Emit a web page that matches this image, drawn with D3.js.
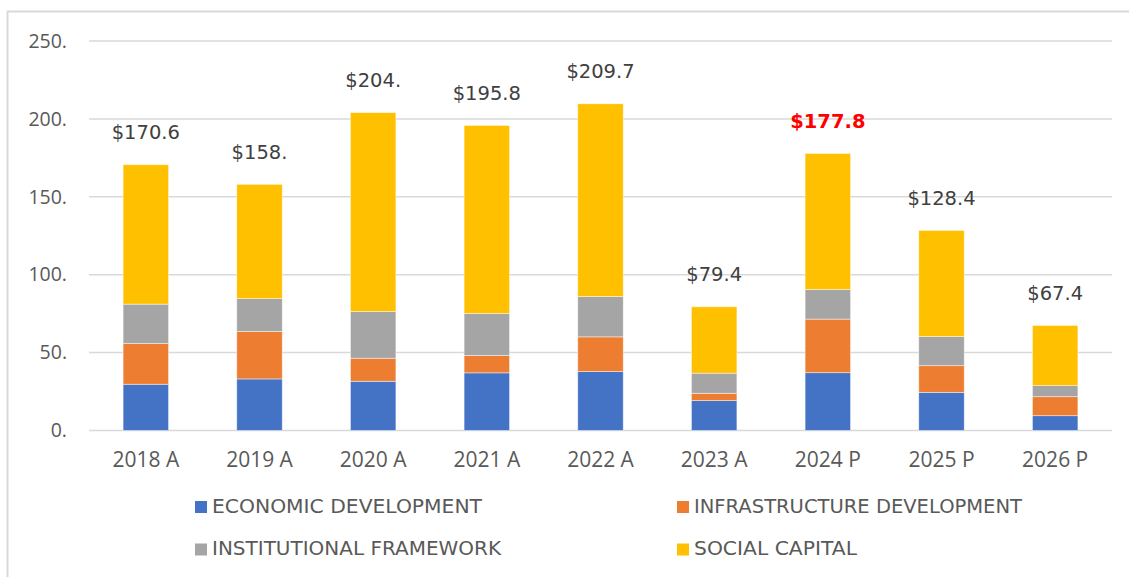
<!DOCTYPE html>
<html>
<head>
<meta charset="utf-8">
<script src="https://cdn.jsdelivr.net/npm/d3@7"></script>
<style>
  body { margin: 0; background: #ffffff; }
  svg { display: block; }
</style>
</head>
<body>
<div id="chart"></div>
<script>
// data
const categories = ['2018 A', '2019 A', '2020 A', '2021 A', '2022 A', '2023 A', '2024 P', '2025 P', '2026 P'];
const economic = [29.7, 33.1, 31.6, 37.0, 37.8, 19.2, 37.1, 24.5, 9.5];
const infrastructure = [26.1, 30.4, 14.8, 11.1, 22.3, 4.7, 34.4, 17.1, 12.2];
const institutional = [25.3, 21.2, 29.9, 27.0, 25.9, 12.9, 19.0, 18.7, 7.1];
const social = [89.5, 73.3, 127.7, 120.7, 123.7, 42.6, 87.3, 68.1, 38.6];
const total_labels = ['$170.6', '$158.', '$204.', '$195.8', '$209.7', '$79.4', '$177.8', '$128.4', '$67.4'];
const highlight_label = '2024 P';
const series_names = ['ECONOMIC DEVELOPMENT', 'INFRASTRUCTURE DEVELOPMENT', 'INSTITUTIONAL FRAMEWORK', 'SOCIAL CAPITAL'];
const y_ticks = [0, 50, 100, 150, 200, 250];

//**********************************************************************************************
//                                  CONSTANTS FOR CHART SIZE
//**********************************************************************************************
const TOTAL_WIDTH = 1129;
const TOTAL_HEIGHT = 577;
const PLOT_LEFT = 89;
const PLOT_RIGHT = 1112;
const PLOT_TOP = 41;
const PLOT_BOTTOM = 430.5;
const LABEL_GAP = 31;

const COLORS = ['#4472C4', '#ED7D31', '#A5A5A5', '#FFC000'];

const rows = categories.map((c, i) => ({
    cat: c,
    s0: economic[i],
    s1: infrastructure[i],
    s2: institutional[i],
    s3: social[i],
    label: total_labels[i]
}));
const keys = ['s0', 's1', 's2', 's3'];

const svg = d3.select('#chart').append('svg')
    .attr('width', TOTAL_WIDTH)
    .attr('height', TOTAL_HEIGHT);

// chart frame (right and bottom edges fall outside the picture)
svg.append('rect')
    .attr('x', 7.5).attr('y', 11.5)
    .attr('width', TOTAL_WIDTH + 20).attr('height', TOTAL_HEIGHT + 20)
    .attr('fill', 'none')
    .attr('stroke', '#d9d9d9')
    .attr('stroke-width', 2);

//**********************************************************************************************
//                                  SCALES
//**********************************************************************************************
const x = d3.scaleBand()
    .domain(categories)
    .range([PLOT_LEFT, PLOT_RIGHT])
    .paddingInner(0.6)
    .paddingOuter(0.3);

const y = d3.scaleLinear()
    .domain([0, 250])
    .range([PLOT_BOTTOM, PLOT_TOP]);

// gridlines
svg.append('g')
    .selectAll('line')
    .data(y_ticks)
    .join('line')
    .attr('x1', PLOT_LEFT).attr('x2', PLOT_RIGHT)
    .attr('y1', d => y(d)).attr('y2', d => y(d))
    .attr('stroke', '#d9d9d9')
    .attr('stroke-width', 1.5);

// y axis labels
const yAxis = svg.append('g')
    .attr('transform', 'translate(67,0)')
    .call(d3.axisLeft(y).tickValues(y_ticks).tickFormat(d => d + '.').tickSize(0).tickPadding(0));
yAxis.select('.domain').remove();
yAxis.selectAll('text')
    .attr('fill', '#595959')
    .style('font', '19.5px "Open Sans", sans-serif');

// x axis labels
const xAxis = svg.append('g')
    .attr('transform', `translate(0,${PLOT_BOTTOM})`)
    .call(d3.axisBottom(x).tickSize(0).tickPadding(0));
xAxis.select('.domain').remove();
xAxis.selectAll('text')
    .attr('fill', '#595959')
    .attr('dy', null)
    .attr('y', 31)
    .attr('dominant-baseline', 'middle')
    .style('font', '21px "Open Sans", sans-serif');

//**********************************************************************************************
//                                  STACKED BARS
//**********************************************************************************************
const stacked = d3.stack().keys(keys)(rows);

svg.append('g')
    .selectAll('g')
    .data(stacked)
    .join('g')
    .attr('fill', (d, i) => COLORS[i])
    .selectAll('rect')
    .data(d => d)
    .join('rect')
    .attr('x', d => x(d.data.cat))
    .attr('width', x.bandwidth())
    .attr('y', d => y(d[1]))
    .attr('height', d => y(d[0]) - y(d[1]))
    .attr('stroke', '#ffffff')
    .attr('stroke-opacity', 0.6)
    .attr('stroke-width', 0.75);

// total labels
const top_layer = stacked[stacked.length - 1];
svg.append('g')
    .selectAll('text')
    .data(top_layer)
    .join('text')
    .attr('x', d => x(d.data.cat) + x.bandwidth() / 2)
    .attr('y', d => y(d[1]) - LABEL_GAP)
    .attr('text-anchor', 'middle')
    .attr('dominant-baseline', 'middle')
    .attr('fill', d => d.data.cat === highlight_label ? '#FF0000' : '#404040')
    .style('font-family', '"DejaVu Sans", sans-serif')
    .style('font-size', '19.5px')
    .style('font-weight', d => d.data.cat === highlight_label ? 'bold' : 'normal')
    .text(d => d.data.label);

//**********************************************************************************************
//                                  LEGEND
//**********************************************************************************************
const legend_pos = [
    {x: 195, y: 507, w: 270},
    {x: 677, y: 507, w: 328},
    {x: 195, y: 549.5, w: 289},
    {x: 677, y: 549.5, w: 163}
];

const legend = svg.append('g')
    .selectAll('g')
    .data(series_names)
    .join('g')
    .attr('transform', (d, i) => `translate(${legend_pos[i].x},${legend_pos[i].y})`);

legend.append('rect')
    .attr('x', 0).attr('y', -6)
    .attr('width', 12).attr('height', 12)
    .attr('fill', (d, i) => COLORS[i]);

legend.append('text')
    .attr('x', 17)
    .attr('y', 0)
    .attr('dominant-baseline', 'middle')
    .attr('fill', '#595959')
    .attr('textLength', (d, i) => legend_pos[i].w)
    .attr('lengthAdjust', 'spacingAndGlyphs')
    .style('font-family', '"DejaVu Sans", sans-serif')
    .style('font-size', '20px')
    .text(d => d);
</script>
</body>
</html>
